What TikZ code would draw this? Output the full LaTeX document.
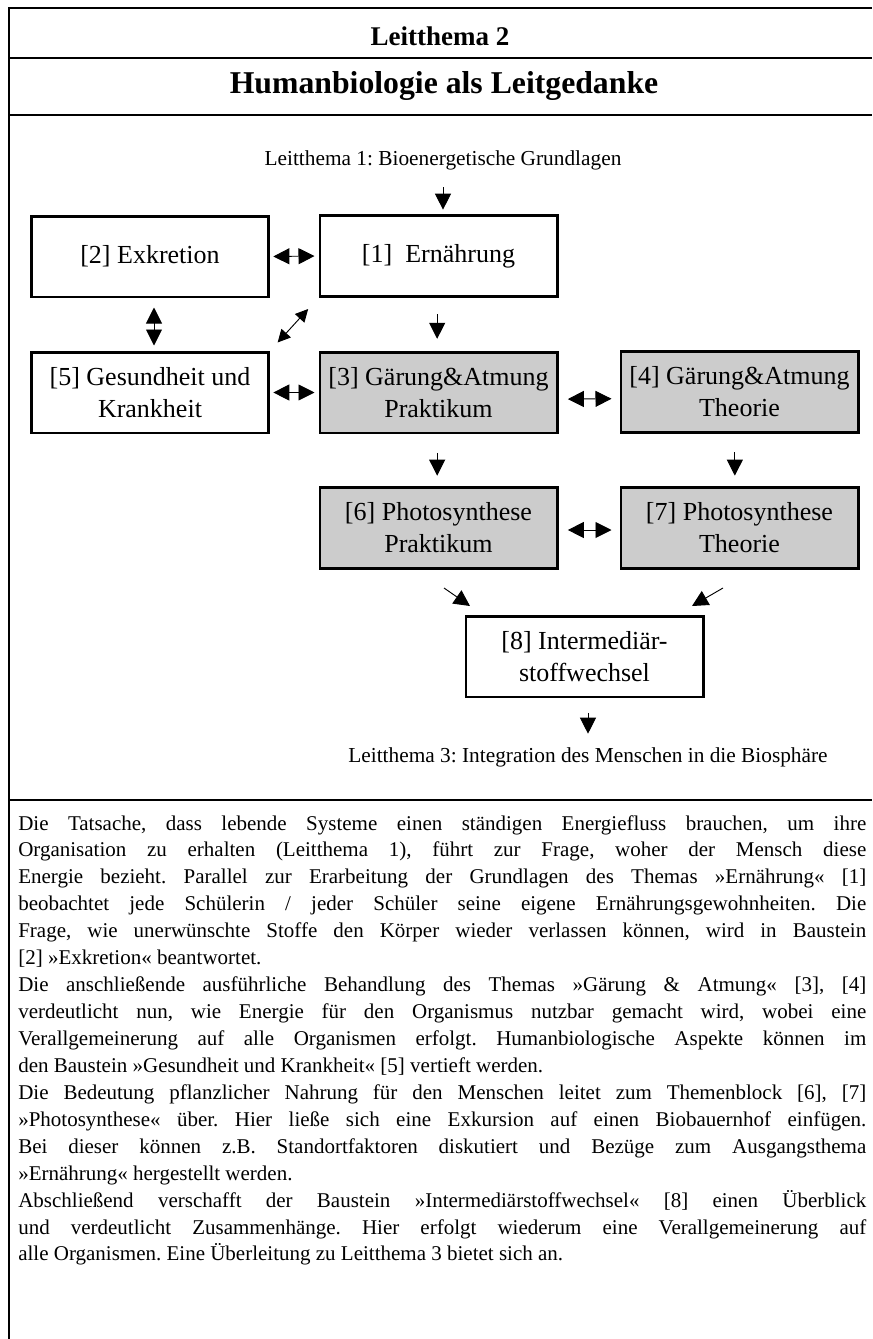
\documentclass[tikz,border=0pt]{standalone}
\usepackage{fontspec}
\setmainfont{Liberation Serif}
\usetikzlibrary{arrows.meta}
\definecolor{boxgrey}{gray}{0.8}
\setlength{\parindent}{0pt}
\tolerance=10000
\hbadness=10000
\hyphenpenalty=10000
\exhyphenpenalty=10000
\frenchspacing
% justified forced line end
\newcommand{\jbr}{\linebreak{}}
\begin{document}
\begin{tikzpicture}[x=0.75pt,y=-0.75pt,
  box/.style={draw=black, line width=2pt, minimum width=178pt, minimum height=60.5pt,
    inner sep=0pt, align=center, font=\fontsize{19.5}{24}\selectfont},
  greybox/.style={box, fill=boxgrey},
  tip/.tip={Triangle[length=12pt,width=12pt]},
  smalltip/.tip={Triangle[length=9.5pt,width=9.5pt]},
  arr/.style={line width=0.7pt, -tip},
  darr/.style={line width=0.7pt, tip-tip},
  diag/.style={line width=0.7pt, smalltip-smalltip},
  frame/.style={line width=2.1pt},
  label/.style={inner sep=0pt, font=\fontsize{16}{19}\selectfont},
  body/.style={anchor=north west, inner sep=0pt, text width=636pt, align=justify,
    font=\fontsize{15.75}{20.2}\selectfont}
]
\useasboundingbox (0,0) rectangle (872,1339);

% outer frame and header rules
\draw[frame] (9,1339) -- (9,8) -- (872,8);
\draw[frame] (9,58) -- (872,58);
\draw[frame] (9,115) -- (872,115);
\draw[frame] (9,800) -- (872,800);

% headings
\node[inner sep=0pt, font=\bfseries\fontsize{20.25}{24}\selectfont] (lt2) at (440,36) {Leitthema 2};
\node[inner sep=0pt, font=\bfseries\fontsize{23.8}{28}\selectfont] (title) at (444,86) {Humanbiologie als Leitgedanke};

% building blocks
\node[label] (lt1) at (443,160) {Leitthema 1: Bioenergetische Grundlagen};
\node[box] (b1) at (438.5,256) {[1]\ \ Ernährung};
\node[box] (b2) at (150,256.5) {[2] Exkretion};
\node[box] (b5) at (150,392.5) {[5] Gesundheit und\\Krankheit};
\node[greybox] (b3) at (438.5,392.5) {[3] Gärung\&Atmung\\Praktikum};
\node[greybox] (b4) at (739.5,392) {[4] Gärung\&Atmung\\Theorie};
\node[greybox] (b6) at (438.5,528) {[6] Photosynthese\\Praktikum};
\node[greybox] (b7) at (739.5,528) {[7] Photosynthese\\Theorie};
\node[box] (b8) at (584.5,656.5) {[8] Intermediär-\\stoffwechsel};
\node[label] (lt3) at (588,757) {Leitthema 3: Integration des Menschen in die Biosphäre};

% connectors
\draw[arr, shorten <=13pt, shorten >=3.5pt] (lt1.south) -- (lt1.south |- b1.north);
\draw[darr, shorten <=2.5pt, shorten >=3pt] (b2.east) -- (b1.west);
\draw[darr, shorten <=2.5pt, shorten >=3pt] (b5.east) -- (b3.west);
\draw[darr, shorten <=7pt, shorten >=6pt] ([yshift=-5pt]b3.east) -- ([yshift=-5pt]b4.west);
\draw[darr, shorten <=7pt, shorten >=6pt] ([yshift=-1.5pt]b6.east) -- ([yshift=-1.5pt]b7.west);
\draw[darr, shorten <=7pt, shorten >=4pt] ([xshift=3pt]b2.south) -- ([xshift=3pt]b5.north);
\draw[diag, shorten <=8.5pt, shorten >=11.5pt] (b5.north east) -- (b1.south west);
\draw[arr, shorten <=12.5pt, shorten >=9pt] ([xshift=-1pt]b1.south) -- ([xshift=-1pt]b3.north);
\draw[arr, shorten <=14pt, shorten >=8pt] ([xshift=-1pt]b3.south) -- ([xshift=-1pt]b6.north);
\draw[arr, shorten <=14pt, shorten >=8pt] ([xshift=-3.5pt]b4.south) -- ([xshift=-3.5pt]b7.north);
\coordinate (s68) at (444,588);
\coordinate (e68) at (470,606);
\coordinate (s78) at (723,588);
\coordinate (e78) at (692,606);
\draw[arr] (s68) -- (e68);
\draw[arr] (s78) -- (e78);
\draw[arr, shorten <=11pt, shorten >=10pt] (b8.south -| lt3.north) -- (lt3.north);

% explanatory text
\node[body] (txt) at (18,815) {Die Tatsache, dass lebende Systeme einen ständigen Energiefluss brauchen, um ihre\jbr
Organisation zu erhalten (Leitthema 1), führt zur Frage, woher der Mensch diese\jbr
Energie bezieht. Parallel zur Erarbeitung der Grundlagen des Themas »Ernährung« [1]\jbr
beobachtet jede Schülerin / jeder Schüler seine eigene Ernährungsgewohnheiten. Die\jbr
Frage, wie unerwünschte Stoffe den Körper wieder verlassen können, wird in Baustein\jbr
[2] »Exkretion« beantwortet.\par
Die anschließende ausführliche Behandlung des Themas »Gärung \& Atmung« [3], [4]\jbr
verdeutlicht nun, wie Energie für den Organismus nutzbar gemacht wird, wobei eine\jbr
Verallgemeinerung auf alle Organismen erfolgt. Humanbiologische Aspekte können im\jbr
den Baustein »Gesundheit und Krankheit« [5] vertieft werden.\par
Die Bedeutung pflanzlicher Nahrung für den Menschen leitet zum Themenblock [6], [7]\jbr
»Photosynthese« über. Hier ließe sich eine Exkursion auf einen Biobauernhof einfügen.\jbr
Bei dieser können z.B. Standortfaktoren diskutiert und Bezüge zum Ausgangsthema\jbr
»Ernährung« hergestellt werden.\par
Abschließend verschafft der Baustein »Intermediärstoffwechsel« [8] einen Überblick\jbr
und verdeutlicht Zusammenhänge. Hier erfolgt wiederum eine Verallgemeinerung auf\jbr
alle Organismen. Eine Überleitung zu Leitthema 3 bietet sich an.};
\end{tikzpicture}
\end{document}
